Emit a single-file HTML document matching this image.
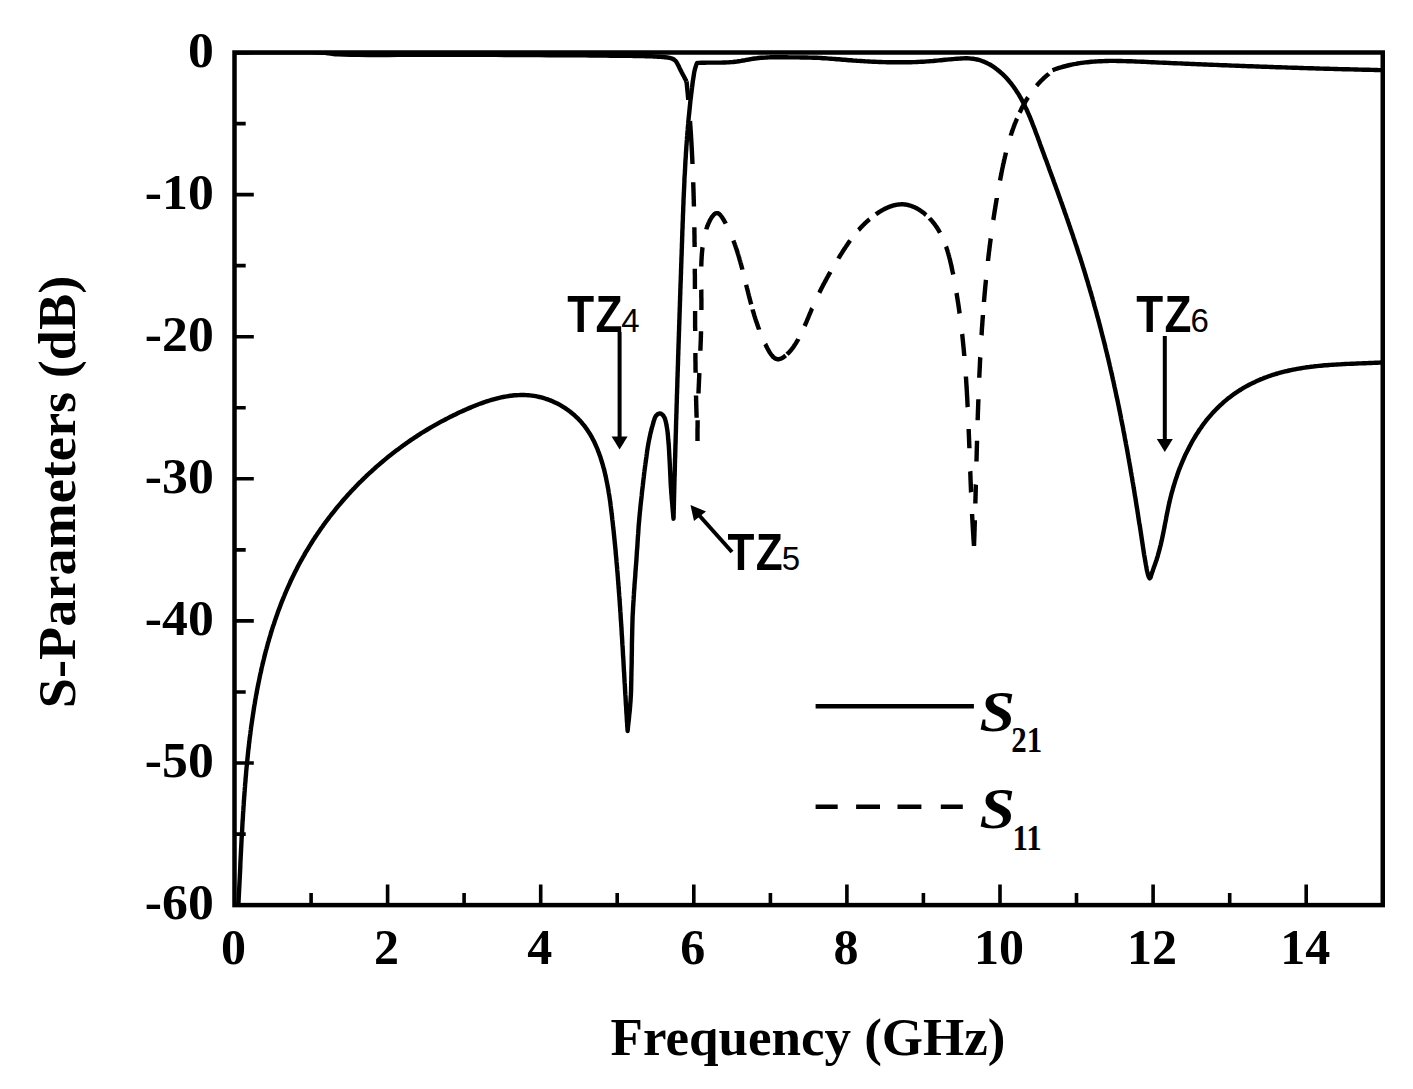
<!DOCTYPE html>
<html><head><meta charset="utf-8"><style>
html,body{margin:0;padding:0;background:#fff;}
body{width:1413px;height:1089px;overflow:hidden;}
svg{display:block;}
</style></head><body>
<svg width="1413" height="1089" viewBox="0 0 1413 1089">
<rect width="1413" height="1089" fill="#fff"/>
<defs><clipPath id="pc"><rect x="234.5" y="52.5" width="1148.25" height="852.6"/></clipPath></defs>
<g clip-path="url(#pc)" fill="none" stroke="#000" stroke-width="4.4" stroke-linejoin="round">
<path d="M238.3,906.0 L238.4,904.1 L238.5,902.1 L238.6,900.2 L238.7,898.3 L238.8,896.3 L238.9,894.4 L239.0,892.5 L239.1,890.5 L239.2,888.6 L239.3,886.6 L239.4,884.6 L239.5,882.7 L239.6,880.7 L239.7,878.8 L239.8,876.8 L239.9,874.8 L240.0,872.9 L240.1,870.9 L240.2,868.9 L240.3,866.9 L240.3,865.0 L240.4,863.0 L240.5,861.0 L240.6,859.0 L240.7,857.0 L240.8,855.0 L240.9,853.1 L241.0,851.1 L241.1,849.1 L241.2,847.1 L241.3,845.1 L241.4,843.1 L241.5,841.1 L241.6,839.1 L241.7,837.1 L241.9,835.1 L242.0,833.1 L242.1,831.1 L242.2,829.1 L242.3,827.0 L242.4,825.0 L242.5,823.0 L242.6,821.0 L242.8,819.0 L242.9,817.0 L243.0,815.0 L243.1,812.9 L243.3,810.9 L243.4,808.9 L243.5,806.9 L243.7,804.9 L243.8,802.8 L243.9,800.8 L244.1,798.8 L244.2,796.8 L244.4,794.8 L244.5,792.7 L244.7,790.7 L244.8,788.7 L245.0,786.7 L245.1,784.6 L245.3,782.6 L245.5,780.6 L245.6,778.5 L245.8,776.5 L246.0,774.5 L246.1,772.5 L246.3,770.4 L246.5,768.4 L246.7,766.4 L246.9,764.4 L247.1,762.3 L247.3,760.3 L247.5,758.3 L247.7,756.3 L247.9,754.2 L248.1,752.2 L248.3,750.2 L248.6,748.2 L248.8,746.2 L249.0,744.1 L249.3,742.1 L249.5,740.1 L249.7,738.1 L250.0,736.1 L250.3,734.0 L250.5,732.0 L250.8,730.0 L251.0,728.0 L251.3,726.0 L251.6,724.0 L251.9,722.0 L252.2,719.9 L252.5,717.9 L252.8,715.9 L253.1,713.9 L253.4,711.9 L253.7,709.9 L254.0,707.9 L254.3,705.9 L254.7,703.9 L255.0,701.9 L255.3,699.9 L255.7,697.9 L256.0,695.9 L256.4,694.0 L256.8,692.0 L257.1,690.0 L257.5,688.0 L257.9,686.0 L258.3,684.0 L258.7,682.1 L259.1,680.1 L259.5,678.1 L259.9,676.1 L260.3,674.2 L260.8,672.2 L261.2,670.2 L261.6,668.3 L262.1,666.3 L262.5,664.4 L263.0,662.4 L263.5,660.5 L264.0,658.5 L264.4,656.6 L264.9,654.6 L265.4,652.7 L265.9,650.7 L266.5,648.8 L267.0,646.9 L267.5,645.0 L268.0,643.0 L268.6,641.1 L269.1,639.2 L269.7,637.3 L270.3,635.4 L270.8,633.5 L271.4,631.5 L272.0,629.6 L272.6,627.7 L273.2,625.8 L273.9,624.0 L274.5,622.1 L275.1,620.2 L275.8,618.3 L276.4,616.4 L277.1,614.5 L277.7,612.7 L278.4,610.8 L279.1,608.9 L279.8,607.1 L280.5,605.2 L281.2,603.4 L281.9,601.5 L282.7,599.7 L283.4,597.9 L284.2,596.0 L284.9,594.2 L285.7,592.4 L286.5,590.5 L287.3,588.7 L288.1,586.9 L288.9,585.1 L289.7,583.3 L290.5,581.5 L291.3,579.7 L292.2,577.9 L293.1,576.1 L293.9,574.4 L294.8,572.6 L295.7,570.8 L296.6,569.1 L297.5,567.3 L298.4,565.5 L299.3,563.8 L300.3,562.0 L301.2,560.3 L302.2,558.6 L303.2,556.8 L304.2,555.1 L305.1,553.4 L306.1,551.7 L307.2,550.0 L308.2,548.3 L309.2,546.6 L310.3,544.9 L311.3,543.2 L312.4,541.5 L313.4,539.8 L314.5,538.2 L315.6,536.5 L316.7,534.9 L317.8,533.2 L319.0,531.6 L320.1,529.9 L321.2,528.3 L322.4,526.7 L323.5,525.1 L324.7,523.4 L325.9,521.8 L327.1,520.2 L328.3,518.6 L329.5,517.0 L330.7,515.5 L331.9,513.9 L333.2,512.3 L334.4,510.8 L335.7,509.2 L336.9,507.7 L338.2,506.1 L339.5,504.6 L340.8,503.1 L342.1,501.5 L343.4,500.0 L344.7,498.5 L346.1,497.0 L347.4,495.5 L348.7,494.0 L350.1,492.6 L351.5,491.1 L352.8,489.6 L354.2,488.2 L355.6,486.7 L357.0,485.3 L358.4,483.8 L359.8,482.4 L361.3,481.0 L362.7,479.6 L364.1,478.2 L365.6,476.8 L367.0,475.4 L368.5,474.0 L370.0,472.6 L371.5,471.3 L373.0,469.9 L374.5,468.6 L376.0,467.2 L377.5,465.9 L379.0,464.6 L380.5,463.3 L382.1,462.0 L383.6,460.7 L385.2,459.4 L386.7,458.1 L388.3,456.8 L389.9,455.6 L391.5,454.3 L393.1,453.1 L394.7,451.8 L396.3,450.6 L397.9,449.4 L399.5,448.2 L401.2,447.0 L402.8,445.8 L404.5,444.6 L406.1,443.4 L407.8,442.2 L409.4,441.1 L411.1,439.9 L412.8,438.8 L414.5,437.7 L416.2,436.6 L417.9,435.4 L419.6,434.3 L421.3,433.2 L423.1,432.2 L424.8,431.1 L426.6,430.0 L428.3,429.0 L430.1,427.9 L431.8,426.9 L433.6,425.9 L435.4,424.9 L437.2,423.9 L438.9,422.9 L440.7,421.9 L442.5,420.9 L444.4,420.0 L446.2,419.0 L448.0,418.1 L449.8,417.1 L451.7,416.2 L453.5,415.3 L455.4,414.4 L457.2,413.5 L459.1,412.6 L460.9,411.8 L462.8,410.9 L464.7,410.1 L466.6,409.2 L468.5,408.4 L470.4,407.6 L472.3,406.8 L474.2,406.0 L476.1,405.2 L478.0,404.5 L479.9,403.8 L481.9,403.1 L483.8,402.4 L485.7,401.7 L487.7,401.1 L489.6,400.5 L491.5,399.9 L493.5,399.3 L495.4,398.8 L497.3,398.3 L499.3,397.8 L501.2,397.4 L503.1,397.0 L505.1,396.6 L507.0,396.3 L509.0,396.0 L510.9,395.7 L512.8,395.5 L514.7,395.3 L516.7,395.2 L518.6,395.1 L520.5,395.0 L522.4,395.0 L524.3,395.0 L526.2,395.1 L528.1,395.2 L530.0,395.4 L531.9,395.6 L533.8,395.9 L535.7,396.2 L537.6,396.6 L539.4,397.0 L541.3,397.4 L543.1,397.9 L544.9,398.5 L546.7,399.1 L548.5,399.7 L550.3,400.4 L552.1,401.1 L553.8,401.9 L555.6,402.7 L557.3,403.5 L559.0,404.4 L560.7,405.4 L562.3,406.3 L563.9,407.3 L565.5,408.4 L567.1,409.5 L568.7,410.6 L570.2,411.8 L571.7,413.0 L573.2,414.2 L574.7,415.5 L576.1,416.8 L577.5,418.1 L578.8,419.5 L580.2,420.9 L581.5,422.4 L582.7,423.9 L584.0,425.4 L585.2,426.9 L586.3,428.5 L587.4,430.1 L588.5,431.8 L589.6,433.4 L590.6,435.1 L591.6,436.8 L592.5,438.6 L593.4,440.3 L594.3,442.1 L595.2,444.0 L596.0,445.8 L596.8,447.6 L597.6,449.5 L598.3,451.4 L599.0,453.3 L599.7,455.2 L600.4,457.1 L601.0,459.1 L601.6,461.0 L602.2,463.0 L602.8,464.9 L603.3,466.9 L603.9,468.9 L604.4,470.9 L604.9,472.9 L605.3,474.9 L605.8,476.9 L606.2,478.9 L606.6,480.9 L607.0,482.9 L607.4,484.9 L607.8,487.0 L608.2,489.0 L608.5,491.0 L608.8,493.1 L609.2,495.1 L609.5,497.1 L609.8,499.2 L610.1,501.2 L610.4,503.2 L610.6,505.3 L610.9,507.3 L611.1,509.4 L611.4,511.4 L611.6,513.4 L611.9,515.5 L612.1,517.5 L612.3,519.5 L612.6,521.6 L612.8,523.6 L613.0,525.6 L613.2,527.6 L613.5,529.7 L613.7,531.7 L613.9,533.7 L614.1,535.7 L614.3,537.7 L614.5,539.7 L614.7,541.7 L614.9,543.8 L615.1,545.8 L615.3,547.8 L615.5,549.8 L615.7,551.8 L615.8,553.8 L616.0,555.8 L616.2,557.7 L616.4,559.7 L616.5,561.7 L616.7,563.7 L616.9,565.7 L617.1,567.7 L617.2,569.7 L617.4,571.7 L617.6,573.7 L617.7,575.6 L617.9,577.6 L618.0,579.6 L618.2,581.6 L618.3,583.6 L618.5,585.5 L618.6,587.5 L618.8,589.5 L618.9,591.5 L619.1,593.4 L619.2,595.4 L619.4,597.4 L619.5,599.3 L619.7,601.3 L619.8,603.3 L619.9,605.3 L620.1,607.2 L620.2,609.2 L620.3,611.2 L620.5,613.1 L620.6,615.1 L620.7,617.1 L620.8,619.1 L621.0,621.0 L621.1,623.0 L621.2,625.0 L621.4,626.9 L621.5,628.9 L621.6,630.9 L621.7,632.9 L621.8,634.8 L622.0,636.8 L622.1,638.8 L622.2,640.7 L622.3,642.7 L622.4,644.7 L622.6,646.7 L622.7,648.6 L622.8,650.6 L622.9,652.6 L623.0,654.6 L623.1,656.6 L623.3,658.5 L623.4,660.5 L623.5,662.5 L623.6,664.5 L623.7,666.5 L623.8,668.5 L623.9,670.5 L624.1,672.4 L624.2,674.4 L624.3,676.4 L624.4,678.4 L624.5,680.4 L624.6,682.4 L624.8,684.4 L624.9,686.4 L625.0,688.4 L625.1,690.4 L625.2,692.4 L625.3,694.4 L625.5,696.5 L625.6,698.5 L625.7,700.5 L625.8,702.5 L625.9,704.5 L626.1,706.5 L626.2,708.6 L626.3,710.6 L626.4,712.6 L626.6,714.7 L626.7,716.7 L626.8,718.7 L626.9,720.8 L627.1,722.8 L627.2,724.9 L627.3,726.9 L627.5,728.9 L627.6,731.0 L627.9,728.4 L628.1,725.8 L628.4,723.2 L628.7,720.7 L629.0,718.1 L629.2,715.5 L629.5,712.9 L629.8,710.3 L630.0,707.7 L630.2,705.1 L630.4,702.6 L630.6,700.0 L630.7,697.5 L630.9,695.1 L631.0,692.6 L631.1,690.3 L631.1,687.9 L631.2,685.4 L631.2,683.0 L631.3,680.5 L631.3,678.0 L631.4,675.4 L631.4,672.8 L631.5,670.0 L631.6,666.2 L631.7,662.3 L631.7,658.1 L631.8,653.8 L631.9,649.4 L631.9,645.0 L632.0,640.6 L632.1,636.2 L632.2,631.9 L632.3,627.7 L632.4,623.8 L632.5,620.0 L632.6,617.2 L632.7,614.6 L632.9,612.0 L633.0,609.4 L633.1,607.0 L633.3,604.5 L633.4,602.1 L633.6,599.7 L633.7,597.3 L633.9,594.9 L634.0,592.5 L634.2,590.0 L634.4,587.5 L634.5,585.0 L634.7,582.6 L634.9,580.2 L635.1,577.7 L635.3,575.3 L635.4,572.8 L635.6,570.3 L635.8,567.8 L636.0,565.2 L636.2,562.7 L636.4,560.0 L636.6,556.9 L636.8,553.7 L637.0,550.4 L637.3,547.1 L637.5,543.7 L637.7,540.4 L637.9,537.0 L638.2,533.5 L638.4,530.1 L638.6,526.7 L638.9,523.3 L639.2,520.0 L639.5,516.6 L639.8,513.1 L640.2,509.6 L640.5,506.0 L640.9,502.4 L641.3,498.9 L641.7,495.4 L642.0,492.0 L642.4,488.7 L642.8,485.6 L643.1,482.7 L643.4,480.0 L643.6,478.4 L643.8,477.0 L643.9,475.6 L644.1,474.3 L644.2,473.0 L644.4,471.8 L644.5,470.6 L644.7,469.4 L644.9,468.2 L645.0,466.9 L645.2,465.6 L645.4,464.2 L645.6,462.5 L645.9,460.7 L646.1,458.9 L646.4,457.1 L646.6,455.2 L646.9,453.3 L647.1,451.4 L647.4,449.6 L647.7,447.7 L648.0,445.9 L648.3,444.1 L648.6,442.4 L648.9,440.9 L649.2,439.4 L649.5,438.0 L649.8,436.5 L650.1,435.1 L650.4,433.6 L650.8,432.2 L651.1,430.9 L651.4,429.5 L651.8,428.2 L652.1,426.9 L652.5,425.7 L652.8,424.7 L653.1,423.7 L653.3,422.7 L653.6,421.7 L653.9,420.8 L654.2,419.8 L654.5,418.9 L654.8,418.1 L655.1,417.3 L655.5,416.6 L655.9,415.9 L656.3,415.4 L656.6,415.1 L656.9,414.8 L657.2,414.6 L657.5,414.3 L657.9,414.1 L658.2,413.9 L658.5,413.8 L658.9,413.7 L659.2,413.6 L659.6,413.5 L659.9,413.5 L660.2,413.5 L660.5,413.6 L660.9,413.7 L661.2,413.9 L661.6,414.1 L661.9,414.3 L662.2,414.6 L662.6,414.9 L662.9,415.2 L663.2,415.6 L663.5,415.9 L663.7,416.3 L664.0,416.7 L664.3,417.3 L664.6,417.9 L664.9,418.5 L665.1,419.2 L665.3,419.9 L665.6,420.7 L665.7,421.5 L665.9,422.3 L666.1,423.1 L666.3,424.0 L666.4,424.8 L666.6,425.7 L666.8,426.9 L667.0,428.1 L667.2,429.4 L667.4,430.8 L667.6,432.2 L667.7,433.6 L667.9,435.0 L668.0,436.5 L668.1,437.9 L668.2,439.4 L668.4,440.9 L668.5,442.4 L668.6,444.1 L668.8,445.8 L668.9,447.6 L669.0,449.4 L669.1,451.2 L669.2,453.0 L669.3,454.8 L669.4,456.7 L669.5,458.6 L669.6,460.4 L669.7,462.3 L669.8,464.2 L669.9,466.3 L670.0,468.4 L670.1,470.5 L670.2,472.7 L670.3,474.8 L670.4,477.0 L670.5,479.2 L670.6,481.4 L670.7,483.5 L670.8,485.7 L671.0,487.8 L671.1,489.9 L671.2,491.9 L671.4,494.0 L671.6,496.1 L671.7,498.3 L671.9,500.4 L672.1,502.5 L672.3,504.5 L672.4,506.5 L672.6,508.3 L672.7,510.1 L672.9,511.6 L673.0,513.0 L673.1,513.6 L673.1,514.2 L673.1,514.7 L673.2,515.2 L673.2,515.6 L673.3,516.1 L673.3,516.5 L673.3,516.9 L673.4,517.4 L673.4,517.8 L673.5,518.2 L673.5,518.7 L673.6,516.7 L673.6,514.7 L673.7,512.6 L673.7,510.6 L673.8,508.6 L673.8,506.6 L673.9,504.6 L673.9,502.5 L674.0,500.5 L674.0,498.5 L674.1,496.5 L674.1,494.5 L674.2,492.5 L674.2,490.4 L674.3,488.4 L674.3,486.4 L674.4,484.4 L674.4,482.4 L674.5,480.4 L674.5,478.3 L674.6,476.3 L674.7,474.3 L674.7,472.3 L674.8,470.3 L674.8,468.3 L674.9,466.3 L674.9,464.2 L675.0,462.2 L675.0,460.2 L675.1,458.2 L675.2,456.2 L675.2,454.2 L675.3,452.2 L675.3,450.1 L675.4,448.1 L675.4,446.1 L675.5,444.1 L675.6,442.1 L675.6,440.1 L675.7,438.1 L675.7,436.1 L675.8,434.0 L675.9,432.0 L675.9,430.0 L676.0,428.0 L676.0,426.0 L676.1,424.0 L676.1,422.0 L676.2,420.0 L676.3,418.0 L676.3,415.9 L676.4,413.9 L676.5,411.9 L676.5,409.9 L676.6,407.9 L676.6,405.9 L676.7,403.9 L676.8,401.9 L676.8,399.8 L676.9,397.8 L676.9,395.8 L677.0,393.8 L677.1,391.8 L677.1,389.8 L677.2,387.8 L677.3,385.8 L677.3,383.8 L677.4,381.8 L677.4,379.7 L677.5,377.7 L677.6,375.7 L677.6,373.7 L677.7,371.7 L677.8,369.7 L677.8,367.7 L677.9,365.7 L678.0,363.7 L678.0,361.6 L678.1,359.6 L678.1,357.6 L678.2,355.6 L678.3,353.6 L678.3,351.6 L678.4,349.6 L678.5,347.6 L678.5,345.6 L678.6,343.5 L678.7,341.5 L678.7,339.5 L678.8,337.5 L678.9,335.5 L678.9,333.5 L679.0,331.5 L679.1,329.5 L679.1,327.4 L679.2,325.4 L679.3,323.4 L679.3,321.4 L679.4,319.4 L679.5,317.4 L679.5,315.4 L679.6,313.4 L679.7,311.3 L679.7,309.3 L679.8,307.3 L679.9,305.3 L679.9,303.3 L680.0,301.3 L680.1,299.3 L680.1,297.3 L680.2,295.2 L680.3,293.2 L680.3,291.2 L680.4,289.2 L680.5,287.2 L680.5,285.2 L680.6,283.2 L680.7,281.1 L680.8,279.1 L680.8,277.1 L680.9,275.1 L681.0,273.1 L681.0,271.1 L681.1,269.0 L681.2,267.0 L681.2,265.0 L681.3,263.0 L681.4,261.0 L681.4,259.0 L681.5,256.9 L681.6,254.9 L681.7,252.9 L681.7,250.9 L681.8,248.9 L681.9,246.8 L681.9,244.8 L682.0,242.8 L682.1,240.8 L682.1,238.8 L682.2,236.8 L682.3,234.7 L682.3,232.7 L682.4,230.7 L682.5,228.7 L682.6,226.7 L682.6,224.6 L682.7,222.6 L682.8,220.6 L682.9,218.6 L682.9,216.5 L683.0,214.5 L683.1,212.5 L683.2,210.5 L683.2,208.5 L683.3,206.4 L683.4,204.4 L683.5,202.4 L683.5,200.4 L683.6,198.4 L683.7,196.3 L683.8,194.3 L683.9,192.3 L684.0,190.3 L684.1,188.3 L684.2,186.2 L684.3,184.2 L684.4,182.2 L684.4,180.2 L684.5,178.2 L684.6,176.2 L684.8,174.1 L684.9,172.1 L685.0,170.1 L685.1,168.1 L685.2,166.1 L685.3,164.1 L685.4,162.1 L685.5,160.0 L685.7,158.0 L685.8,156.0 L685.9,154.0 L686.0,152.0 L686.2,150.0 L686.3,148.0 L686.4,146.0 L686.6,144.0 L686.7,142.0 L686.9,139.9 L687.0,137.9 L687.2,135.9 L687.3,133.9 L687.5,131.9 L687.7,129.9 L687.8,127.9 L688.0,125.9 L688.2,123.9 L688.3,121.9 L688.5,119.9 L688.7,117.9 L688.9,115.9 L689.1,114.0 L689.3,112.0 L689.5,110.0 L689.7,108.0 L689.9,106.0 L690.1,104.0 L690.3,102.0 L690.5,100.0 L690.8,98.0 L691.0,96.1 L691.2,94.1 L691.5,92.1 L691.7,90.1 L692.0,88.1 L692.2,86.2 L692.5,84.2 L692.7,82.2 L693.0,80.2 L693.3,78.3 L693.6,76.3 L693.9,74.4 L694.2,72.4 L694.6,70.5 L695.1,68.6 L695.7,66.7 L696.3,64.8 L697.0,63.0 L699.0,62.9 L701.0,62.8 L703.0,62.7 L705.0,62.7 L707.0,62.6 L709.0,62.6 L711.0,62.6 L713.0,62.6 L715.0,62.6 L717.1,62.6 L719.1,62.6 L721.1,62.6 L723.1,62.5 L725.1,62.5 L727.1,62.4 L729.1,62.3 L731.1,62.1 L733.1,62.0 L735.1,61.7 L737.0,61.5 L739.0,61.2 L741.0,60.9 L743.0,60.5 L745.0,60.2 L746.9,59.8 L748.9,59.5 L750.9,59.1 L752.9,58.8 L754.9,58.5 L756.8,58.3 L758.8,58.0 L760.8,57.8 L762.8,57.7 L764.8,57.6 L766.8,57.5 L768.8,57.4 L770.8,57.3 L772.8,57.3 L774.8,57.3 L776.8,57.3 L778.8,57.3 L780.8,57.3 L782.9,57.3 L784.9,57.3 L786.9,57.3 L788.9,57.4 L790.9,57.4 L792.9,57.4 L794.9,57.4 L796.9,57.4 L798.9,57.4 L800.9,57.5 L802.9,57.5 L804.9,57.5 L806.9,57.5 L808.9,57.6 L811.0,57.6 L813.0,57.7 L815.0,57.7 L817.0,57.8 L819.0,57.9 L821.0,58.0 L823.0,58.2 L824.9,58.3 L826.9,58.4 L828.9,58.6 L830.9,58.7 L832.9,58.9 L834.9,59.0 L836.9,59.2 L838.9,59.3 L840.9,59.5 L842.9,59.7 L844.9,59.8 L846.9,60.0 L848.9,60.2 L850.9,60.3 L852.9,60.5 L854.9,60.6 L856.9,60.8 L858.9,60.9 L860.9,61.0 L862.9,61.1 L864.9,61.3 L866.9,61.4 L868.9,61.5 L870.9,61.6 L872.9,61.7 L875.0,61.8 L877.0,61.9 L879.0,62.0 L881.0,62.0 L883.0,62.1 L885.0,62.1 L887.0,62.2 L889.0,62.2 L891.0,62.3 L893.0,62.3 L895.0,62.3 L897.0,62.3 L899.0,62.3 L901.0,62.3 L903.0,62.3 L905.0,62.3 L907.0,62.3 L909.0,62.2 L911.1,62.2 L913.1,62.1 L915.1,62.1 L917.0,62.0 L919.0,61.9 L921.0,61.8 L923.0,61.7 L925.0,61.6 L927.0,61.4 L929.0,61.3 L931.0,61.1 L933.0,61.0 L935.0,60.8 L937.0,60.6 L939.0,60.4 L940.9,60.2 L942.9,60.0 L944.9,59.8 L946.9,59.6 L948.9,59.4 L950.9,59.3 L952.9,59.1 L955.0,58.9 L957.0,58.7 L959.0,58.6 L961.1,58.5 L963.1,58.4 L965.1,58.3 L967.1,58.3 L969.2,58.4 L971.1,58.6 L973.1,58.8 L975.1,59.1 L977.0,59.5 L978.9,59.9 L980.8,60.5 L982.6,61.2 L984.5,61.9 L986.3,62.7 L988.0,63.6 L989.8,64.5 L991.5,65.5 L993.2,66.6 L994.8,67.7 L996.4,68.9 L998.0,70.2 L999.6,71.5 L1001.1,72.8 L1002.6,74.2 L1004.1,75.6 L1005.5,77.0 L1006.9,78.5 L1008.2,80.0 L1009.5,81.6 L1010.8,83.2 L1012.0,84.7 L1013.2,86.3 L1014.4,88.0 L1015.5,89.6 L1016.6,91.3 L1017.7,92.9 L1018.8,94.6 L1019.8,96.4 L1020.8,98.1 L1021.7,99.8 L1022.7,101.6 L1023.6,103.3 L1024.5,105.1 L1025.3,106.9 L1026.2,108.7 L1027.0,110.5 L1027.8,112.4 L1028.6,114.2 L1029.4,116.0 L1030.2,117.9 L1030.9,119.7 L1031.7,121.6 L1032.4,123.5 L1033.1,125.3 L1033.9,127.2 L1034.6,129.1 L1035.3,131.0 L1036.0,132.9 L1036.7,134.7 L1037.4,136.6 L1038.1,138.5 L1038.8,140.4 L1039.5,142.3 L1040.1,144.2 L1040.8,146.1 L1041.5,147.9 L1042.2,149.8 L1042.9,151.7 L1043.6,153.6 L1044.3,155.5 L1045.0,157.4 L1045.7,159.2 L1046.4,161.1 L1047.1,163.0 L1047.8,164.9 L1048.5,166.8 L1049.1,168.7 L1049.8,170.5 L1050.5,172.4 L1051.2,174.3 L1051.9,176.2 L1052.6,178.1 L1053.3,180.0 L1053.9,181.8 L1054.6,183.7 L1055.3,185.6 L1056.0,187.5 L1056.7,189.4 L1057.4,191.3 L1058.0,193.1 L1058.7,195.0 L1059.4,196.9 L1060.1,198.8 L1060.7,200.7 L1061.4,202.6 L1062.1,204.4 L1062.7,206.3 L1063.4,208.2 L1064.1,210.1 L1064.7,212.0 L1065.4,213.9 L1066.1,215.8 L1066.7,217.7 L1067.4,219.5 L1068.0,221.4 L1068.7,223.3 L1069.3,225.2 L1070.0,227.1 L1070.6,229.0 L1071.3,230.9 L1071.9,232.8 L1072.6,234.7 L1073.2,236.6 L1073.8,238.5 L1074.5,240.4 L1075.1,242.3 L1075.7,244.2 L1076.4,246.1 L1077.0,248.0 L1077.6,249.9 L1078.2,251.8 L1078.8,253.7 L1079.5,255.6 L1080.1,257.5 L1080.7,259.4 L1081.3,261.3 L1081.9,263.2 L1082.5,265.2 L1083.1,267.1 L1083.7,269.0 L1084.3,270.9 L1084.9,272.8 L1085.4,274.7 L1086.0,276.7 L1086.6,278.6 L1087.2,280.5 L1087.8,282.4 L1088.3,284.3 L1088.9,286.3 L1089.5,288.2 L1090.0,290.1 L1090.6,292.0 L1091.2,294.0 L1091.7,295.9 L1092.3,297.8 L1092.8,299.8 L1093.4,301.7 L1093.9,303.6 L1094.4,305.6 L1095.0,307.5 L1095.5,309.4 L1096.1,311.4 L1096.6,313.3 L1097.1,315.2 L1097.6,317.2 L1098.2,319.1 L1098.7,321.1 L1099.2,323.0 L1099.7,324.9 L1100.2,326.9 L1100.7,328.8 L1101.2,330.8 L1101.7,332.7 L1102.2,334.7 L1102.7,336.6 L1103.2,338.5 L1103.7,340.5 L1104.2,342.4 L1104.7,344.4 L1105.2,346.3 L1105.6,348.3 L1106.1,350.2 L1106.6,352.2 L1107.1,354.1 L1107.5,356.1 L1108.0,358.0 L1108.5,360.0 L1108.9,361.9 L1109.4,363.9 L1109.8,365.8 L1110.3,367.8 L1110.7,369.7 L1111.2,371.7 L1111.6,373.6 L1112.1,375.6 L1112.5,377.5 L1112.9,379.5 L1113.4,381.4 L1113.8,383.4 L1114.2,385.3 L1114.6,387.3 L1115.1,389.2 L1115.5,391.2 L1115.9,393.1 L1116.3,395.1 L1116.7,397.1 L1117.2,399.0 L1117.6,401.0 L1118.0,402.9 L1118.4,404.9 L1118.8,406.8 L1119.2,408.8 L1119.6,410.8 L1120.0,412.7 L1120.4,414.7 L1120.8,416.6 L1121.1,418.6 L1121.5,420.6 L1121.9,422.5 L1122.3,424.5 L1122.7,426.4 L1123.1,428.4 L1123.4,430.4 L1123.8,432.3 L1124.2,434.3 L1124.6,436.3 L1124.9,438.2 L1125.3,440.2 L1125.7,442.2 L1126.0,444.1 L1126.4,446.1 L1126.8,448.1 L1127.1,450.0 L1127.5,452.0 L1127.8,454.0 L1128.2,455.9 L1128.5,457.9 L1128.9,459.9 L1129.2,461.9 L1129.6,463.8 L1129.9,465.8 L1130.3,467.8 L1130.6,469.7 L1130.9,471.7 L1131.3,473.7 L1131.6,475.7 L1132.0,477.6 L1132.3,479.6 L1132.6,481.6 L1133.0,483.6 L1133.3,485.6 L1133.6,487.5 L1134.0,489.5 L1134.3,491.5 L1134.6,493.5 L1134.9,495.5 L1135.3,497.4 L1135.6,499.4 L1135.9,501.4 L1136.2,503.4 L1136.5,505.4 L1136.8,507.3 L1137.2,509.3 L1137.5,511.3 L1137.8,513.3 L1138.1,515.3 L1138.4,517.3 L1138.7,519.3 L1139.0,521.3 L1139.3,523.2 L1139.7,525.2 L1140.0,527.2 L1140.3,529.2 L1140.6,531.2 L1140.9,533.2 L1141.2,535.2 L1141.5,537.2 L1141.8,539.2 L1142.1,541.2 L1142.4,543.2 L1142.7,545.2 L1143.0,547.2 L1143.3,549.1 L1143.6,551.1 L1143.9,553.1 L1144.2,555.1 L1144.6,557.1 L1144.9,559.0 L1145.2,561.0 L1145.6,562.9 L1145.9,564.9 L1146.3,566.8 L1146.6,568.7 L1147.0,570.7 L1147.5,572.7 L1148.0,574.8 L1148.8,577.1 L1149.6,578.4 L1150.5,577.5 L1151.2,575.3 L1151.9,573.1 L1152.6,571.2 L1153.2,569.4 L1153.8,567.6 L1154.5,565.7 L1155.2,563.8 L1155.8,561.9 L1156.5,560.0 L1157.1,558.0 L1157.7,556.1 L1158.2,554.2 L1158.8,552.2 L1159.3,550.3 L1159.8,548.3 L1160.3,546.4 L1160.8,544.5 L1161.2,542.5 L1161.7,540.6 L1162.1,538.6 L1162.5,536.7 L1162.9,534.8 L1163.3,532.8 L1163.7,530.9 L1164.1,528.9 L1164.5,527.0 L1164.8,525.0 L1165.2,523.1 L1165.6,521.1 L1166.0,519.2 L1166.3,517.2 L1166.7,515.3 L1167.1,513.3 L1167.5,511.4 L1167.9,509.4 L1168.3,507.5 L1168.7,505.5 L1169.1,503.6 L1169.6,501.6 L1170.0,499.7 L1170.5,497.7 L1171.0,495.8 L1171.5,493.8 L1172.0,491.9 L1172.6,489.9 L1173.1,488.0 L1173.7,486.0 L1174.3,484.1 L1174.9,482.2 L1175.5,480.2 L1176.1,478.3 L1176.8,476.4 L1177.4,474.5 L1178.1,472.5 L1178.8,470.6 L1179.5,468.7 L1180.3,466.8 L1181.0,465.0 L1181.8,463.1 L1182.6,461.2 L1183.4,459.3 L1184.2,457.5 L1185.0,455.6 L1185.9,453.8 L1186.8,452.0 L1187.7,450.2 L1188.6,448.4 L1189.5,446.6 L1190.5,444.8 L1191.4,443.0 L1192.4,441.2 L1193.4,439.5 L1194.4,437.8 L1195.5,436.0 L1196.5,434.3 L1197.6,432.7 L1198.7,431.0 L1199.8,429.3 L1201.0,427.7 L1202.1,426.0 L1203.3,424.4 L1204.5,422.8 L1205.7,421.2 L1206.9,419.7 L1208.2,418.1 L1209.5,416.6 L1210.8,415.1 L1212.1,413.6 L1213.4,412.1 L1214.8,410.7 L1216.2,409.3 L1217.6,407.9 L1219.0,406.5 L1220.4,405.1 L1221.9,403.8 L1223.4,402.4 L1224.9,401.1 L1226.4,399.9 L1227.9,398.6 L1229.5,397.4 L1231.1,396.2 L1232.7,395.0 L1234.3,393.8 L1236.0,392.7 L1237.6,391.6 L1239.3,390.5 L1241.0,389.5 L1242.7,388.4 L1244.4,387.4 L1246.2,386.4 L1247.9,385.5 L1249.7,384.5 L1251.5,383.6 L1253.3,382.7 L1255.1,381.9 L1256.9,381.0 L1258.7,380.2 L1260.6,379.4 L1262.4,378.7 L1264.3,377.9 L1266.2,377.2 L1268.0,376.5 L1269.9,375.9 L1271.8,375.2 L1273.7,374.6 L1275.6,374.0 L1277.5,373.5 L1279.4,372.9 L1281.4,372.4 L1283.3,371.9 L1285.2,371.4 L1287.2,371.0 L1289.1,370.5 L1291.1,370.1 L1293.0,369.7 L1295.0,369.3 L1297.0,368.9 L1298.9,368.6 L1300.9,368.3 L1302.9,367.9 L1304.9,367.6 L1306.9,367.3 L1308.9,367.1 L1310.9,366.8 L1312.9,366.6 L1314.9,366.3 L1316.9,366.1 L1318.9,365.9 L1320.9,365.7 L1322.9,365.5 L1324.9,365.3 L1326.9,365.2 L1328.9,365.0 L1330.9,364.9 L1333.0,364.7 L1335.0,364.6 L1337.0,364.5 L1339.0,364.4 L1341.0,364.3 L1343.0,364.1 L1345.1,364.0 L1347.1,363.9 L1349.1,363.9 L1351.1,363.8 L1353.1,363.7 L1355.1,363.6 L1357.1,363.5 L1359.1,363.4 L1361.2,363.4 L1363.2,363.3 L1365.2,363.2 L1367.2,363.1 L1369.2,363.0 L1371.2,363.0 L1373.1,362.9 L1375.1,362.8 L1377.1,362.7 L1379.1,362.6 L1381.1,362.5 L1383.0,362.4 L1385.0,362.3"/>
<path d="M230.0,52.5 L237.9,52.5 L246.2,52.5 L254.8,52.4 L263.5,52.4 L272.2,52.3 L280.7,52.3 L289.0,52.2 L296.9,52.2 L304.3,52.3 L311.1,52.4 L317.0,52.5 L322.0,52.7 L323.8,52.8 L325.3,52.9 L326.6,53.1 L327.8,53.2 L328.9,53.4 L329.9,53.5 L331.0,53.7 L332.1,53.9 L333.3,54.0 L334.6,54.2 L336.2,54.3 L338.0,54.4 L343.8,54.6 L350.8,54.8 L359.0,54.9 L368.0,55.0 L377.6,55.0 L387.9,55.0 L398.4,54.9 L409.1,54.9 L419.8,54.8 L430.3,54.8 L440.5,54.8 L450.0,54.8 L459.0,54.8 L468.1,54.9 L477.3,54.9 L486.5,54.9 L495.7,54.9 L504.8,55.0 L513.9,55.0 L522.7,55.0 L531.4,55.1 L539.9,55.1 L548.1,55.2 L556.0,55.2 L562.0,55.2 L567.9,55.3 L573.7,55.3 L579.4,55.4 L585.0,55.4 L590.5,55.5 L595.8,55.5 L601.0,55.6 L606.1,55.6 L610.9,55.7 L615.6,55.7 L620.0,55.8 L622.9,55.8 L625.8,55.9 L628.6,55.9 L631.3,55.9 L634.0,56.0 L636.5,56.0 L639.0,56.0 L641.4,56.1 L643.7,56.1 L645.9,56.2 L648.0,56.2 L650.0,56.3 L651.2,56.3 L652.4,56.4 L653.5,56.5 L654.6,56.5 L655.6,56.6 L656.6,56.6 L657.6,56.7 L658.5,56.7 L659.4,56.8 L660.3,56.9 L661.2,56.9 L662.0,57.0 L662.6,57.0 L663.1,57.1 L663.7,57.1 L664.2,57.2 L664.7,57.2 L665.2,57.3 L665.7,57.3 L666.2,57.3 L666.6,57.4 L667.1,57.5 L667.6,57.5 L668.0,57.6 L668.4,57.7 L668.7,57.7 L669.1,57.8 L669.4,57.9 L669.8,57.9 L670.1,58.0 L670.4,58.1 L670.7,58.2 L671.1,58.3 L671.4,58.4 L671.7,58.5 L672.0,58.6 L672.3,58.7 L672.6,58.9 L672.9,59.0 L673.2,59.1 L673.5,59.3 L673.8,59.4 L674.1,59.6 L674.4,59.8 L674.6,60.0 L674.9,60.3 L675.2,60.5 L675.5,60.8 L676.0,61.4 L676.4,62.0 L676.9,62.8 L677.4,63.6 L677.8,64.5 L678.3,65.4 L678.7,66.3 L679.2,67.3 L679.6,68.2 L680.1,69.2 L680.5,70.1 L681.0,71.0 L681.5,71.9 L681.9,72.7 L682.4,73.6 L682.8,74.5 L683.3,75.4 L683.8,76.2 L684.2,77.1 L684.7,78.0 L685.1,78.9 L685.6,79.7 L686.0,80.6 L686.5,81.5"/>
<path d="M686.5,81.5 L686.6,82.0 L686.6,82.5 L686.7,83.0 L686.7,83.5 L686.8,84.0 L686.8,84.5 L686.9,85.0 L686.9,85.5 L687.0,86.0 L687.0,86.5 L687.1,87.0 L687.1,87.5 L687.2,88.0 L687.2,88.5 L687.3,89.0 L687.3,89.5 L687.4,90.0 L687.4,90.5 L687.5,91.0 L687.5,91.6 L687.6,92.1 L687.6,92.6 L687.7,93.1 L687.7,93.6 L687.8,94.1 L687.8,94.6 L687.9,95.1 L687.9,95.6 L687.9,96.1 L688.0,96.6 L688.0,97.1 L688.1,97.6 L688.1,98.1 L688.2,98.6 L688.2,99.1 L688.3,99.6 L688.3,100.1 M690.0,121.2 L690.1,121.7 L690.1,122.2 L690.1,122.7 L690.2,123.3 L690.2,123.8 L690.2,124.3 L690.3,124.8 L690.3,125.3 L690.3,125.8 L690.4,126.3 L690.4,126.8 L690.4,127.3 L690.5,127.8 L690.5,128.3 L690.5,128.8 L690.6,129.3 L690.6,129.8 L690.6,130.3 L690.7,130.8 L690.7,131.3 L690.7,131.8 L690.8,132.3 L690.8,132.8 L690.8,133.3 L690.9,133.8 L690.9,134.3 L690.9,134.8 L691.0,135.3 L691.0,135.8 L691.0,136.4 L691.1,136.9 L691.1,137.4 L691.1,137.9 L691.2,138.4 L691.2,138.9 L691.2,139.4 L691.2,139.9 L691.3,140.4 L691.3,140.9 L691.3,141.4 L691.4,141.9 L691.4,142.4 L691.4,142.9 L691.5,143.4 L691.5,143.9 L691.5,144.4 L691.5,144.9 L691.6,145.4 L691.6,145.9 L691.6,146.4 L691.6,146.9 L691.7,147.4 L691.7,147.9 L691.7,148.4 L691.8,149.0 L691.8,149.5 L691.8,150.0 L691.8,150.5 L691.9,151.0 L691.9,151.5 L691.9,152.0 L691.9,152.5 L692.0,153.0 L692.0,153.5 L692.0,154.0 L692.0,154.5 L692.1,155.0 L692.1,155.5 L692.1,156.0 L692.1,156.5 L692.2,157.0 L692.2,157.5 L692.2,158.0 L692.2,158.5 L692.3,159.0 L692.3,159.5 L692.3,160.0 L692.3,160.6 L692.4,161.1 L692.4,161.6 L692.4,162.1 L692.4,162.6 L692.4,163.1 L692.5,163.6 L692.5,164.1 M693.2,182.2 L693.2,182.8 L693.2,183.3 L693.3,183.8 L693.3,184.3 L693.3,184.8 L693.3,185.3 L693.3,185.8 L693.3,186.3 L693.4,186.8 L693.4,187.3 L693.4,187.8 L693.4,188.3 L693.4,188.8 L693.4,189.3 L693.5,189.8 L693.5,190.3 L693.5,190.8 L693.5,191.3 L693.5,191.8 L693.5,192.3 L693.6,192.9 L693.6,193.4 L693.6,193.9 L693.6,194.4 L693.6,194.9 L693.6,195.4 L693.6,195.9 L693.7,196.4 L693.7,196.9 L693.7,197.4 L693.7,197.9 L693.7,198.4 L693.7,198.9 L693.7,199.4 L693.8,199.9 L693.8,200.4 L693.8,200.9 L693.8,201.4 L693.8,201.9 L693.8,202.4 L693.8,203.0 L693.8,203.5 L693.9,204.0 L693.9,204.5 L693.9,205.0 L693.9,205.5 L693.9,206.0 L693.9,206.5 M694.3,227.2 L694.3,227.7 L694.4,228.2 L694.4,228.7 L694.4,229.2 L694.4,229.7 L694.4,230.2 L694.4,230.7 L694.4,231.2 L694.4,231.8 L694.4,232.3 L694.4,232.8 L694.4,233.3 L694.4,233.8 L694.4,234.3 L694.5,234.8 L694.5,235.3 L694.5,235.8 L694.5,236.3 L694.5,236.8 L694.5,237.3 L694.5,237.8 L694.5,238.3 L694.5,238.8 L694.5,239.3 L694.5,239.8 L694.5,240.3 L694.5,240.9 L694.5,241.4 L694.5,241.9 L694.6,242.4 L694.6,242.9 L694.6,243.4 L694.6,243.9 L694.6,244.4 L694.6,244.9 L694.6,245.4 L694.6,245.9 L694.6,246.4 L694.6,246.9 M694.8,268.7 L694.8,269.2 L694.8,269.7 L694.8,270.2 L694.8,270.7 L694.8,271.2 L694.8,271.7 L694.8,272.2 L694.8,272.7 L694.8,273.2 L694.8,273.7 L694.9,274.2 L694.9,274.7 L694.9,275.2 L694.9,275.7 L694.9,276.2 L694.9,276.7 L694.9,277.3 L694.9,277.8 L694.9,278.3 L694.9,278.8 L694.9,279.3 L694.9,279.8 L694.9,280.3 L694.9,280.8 L694.9,281.3 L694.9,281.8 L694.9,282.3 L694.9,282.8 L694.9,283.3 L694.9,283.8 L694.9,284.3 L694.9,284.8 L694.9,285.3 L694.9,285.9 L694.9,286.4 L694.9,286.9 L694.9,287.4 L694.9,287.9 L694.9,288.4 L694.9,288.9 M695.1,311.1 L695.1,311.6 L695.1,312.2 L695.1,312.7 L695.1,313.2 L695.1,313.7 L695.1,314.2 L695.1,314.7 L695.1,315.2 L695.1,315.7 L695.1,316.2 L695.1,316.7 L695.1,317.2 L695.1,317.7 L695.1,318.2 L695.1,318.7 L695.1,319.2 L695.1,319.7 L695.1,320.2 L695.1,320.7 L695.1,321.3 L695.1,321.8 L695.1,322.3 L695.1,322.8 L695.1,323.3 L695.1,323.8 L695.1,324.3 L695.1,324.8 L695.1,325.3 L695.1,325.8 L695.1,326.3 L695.1,326.8 L695.1,327.3 L695.2,327.8 L695.2,328.3 L695.2,328.8 L695.2,329.3 L695.2,329.9 L695.2,330.4 L695.2,330.9 M695.4,353.1 L695.4,353.6 L695.4,354.1 L695.4,354.6 L695.4,355.1 L695.4,355.6 L695.4,356.1 L695.4,356.7 L695.4,357.2 L695.4,357.7 L695.4,358.2 L695.4,358.7 L695.4,359.2 L695.4,359.7 L695.4,360.2 L695.4,360.7 L695.4,361.2 L695.5,361.7 L695.5,362.2 L695.5,362.7 L695.5,363.2 L695.5,363.7 L695.5,364.2 L695.5,364.7 L695.5,365.2 L695.5,365.8 L695.5,366.3 L695.5,366.8 L695.5,367.3 L695.5,367.8 L695.5,368.3 L695.5,368.8 L695.5,369.3 L695.6,369.8 L695.6,370.3 L695.6,370.8 L695.6,371.3 L695.6,371.8 L695.6,372.3 L695.6,372.8 M696.0,395.6 L696.0,396.1 L696.0,396.6 L696.1,397.1 L696.1,397.6 L696.1,398.1 L696.1,398.6 L696.1,399.1 L696.1,399.6 L696.1,400.1 L696.1,400.6 L696.2,401.1 L696.2,401.6 L696.2,402.1 L696.2,402.6 L696.2,403.1 L696.2,403.6 L696.2,404.2 L696.2,404.7 L696.3,405.2 L696.3,405.7 L696.3,406.2 L696.3,406.7 L696.3,407.2 L696.3,407.7 L696.3,408.2 L696.4,408.7 L696.4,409.2 L696.4,409.7 L696.4,410.2 L696.4,410.7 L696.4,411.2 L696.4,411.7 L696.5,412.2 L696.5,412.7 L696.5,413.2 L696.5,413.7 L696.5,414.3 L696.5,414.8 L696.5,415.3 L696.6,415.8 L696.6,416.3 L696.6,416.8 L696.6,417.3 L696.6,417.8 M697.5,441.0 L697.5,440.5 L697.5,439.9 L697.5,439.4 L697.5,438.8 L697.5,438.3 L697.5,437.7 L697.5,437.2 L697.5,436.6 L697.5,436.1 L697.5,435.6 L697.5,435.0 L697.5,434.5 L697.5,433.9 L697.5,433.4 L697.5,432.9 L697.5,432.3 L697.5,431.8 L697.5,431.3 L697.5,430.7 L697.5,430.2 L697.5,429.7 L697.5,429.1 L697.5,428.6 L697.5,428.1 L697.6,427.5 L697.6,427.0 L697.6,426.5 L697.6,426.0 L697.6,425.4 L697.6,424.9 L697.6,424.4 L697.6,423.9 L697.6,423.3 L697.6,422.8 L697.6,422.3 L697.6,421.8 L697.6,421.3 L697.7,420.7 L697.7,420.2 M698.5,393.6 L698.5,393.0 L698.5,392.3 L698.5,391.7 L698.6,391.0 L698.6,390.4 L698.6,389.7 L698.6,389.1 L698.7,388.4 L698.7,387.8 L698.7,387.1 L698.8,386.5 L698.8,385.8 L698.8,385.2 L698.8,384.6 L698.9,383.9 L698.9,383.3 L698.9,382.6 L699.0,382.0 L699.0,381.3 L699.0,380.7 L699.0,380.1 L699.1,379.4 L699.1,378.8 L699.1,378.1 L699.2,377.5 L699.2,376.9 L699.2,376.2 L699.2,375.6 L699.3,374.9 L699.3,374.3 L699.3,373.7 L699.4,373.0 M700.4,350.7 L700.4,350.1 L700.4,349.4 L700.4,348.8 L700.5,348.2 L700.5,347.5 L700.5,346.9 L700.5,346.2 L700.6,345.6 L700.6,344.9 L700.6,344.3 L700.6,343.7 L700.7,343.0 L700.7,342.4 L700.7,341.7 L700.7,341.1 L700.8,340.4 L700.8,339.8 L700.8,339.1 L700.8,338.5 L700.8,337.8 L700.9,337.2 L700.9,336.5 L700.9,335.9 L700.9,335.2 L700.9,334.6 L701.0,333.9 L701.0,333.3 L701.0,332.6 L701.0,332.0 L701.0,331.3 M701.4,309.9 L701.4,309.3 L701.4,308.8 L701.4,308.3 L701.4,307.8 L701.4,307.3 L701.4,306.7 L701.4,306.2 L701.4,305.7 L701.4,305.2 L701.4,304.7 L701.4,304.1 L701.4,303.6 L701.4,303.1 L701.4,302.6 L701.4,302.0 L701.4,301.5 L701.4,301.0 L701.4,300.5 L701.4,299.9 L701.4,299.4 L701.4,298.9 L701.4,298.3 L701.3,297.8 L701.3,297.3 L701.3,296.7 L701.3,296.2 L701.3,295.7 L701.3,295.1 L701.3,294.6 L701.3,294.1 L701.3,293.5 L701.3,293.0 L701.3,292.4 L701.3,291.9 L701.3,291.4 L701.3,290.8 L701.3,290.3 L701.2,289.7 M701.3,266.5 L701.3,265.9 L701.3,265.4 L701.3,264.9 L701.3,264.3 L701.3,263.8 L701.4,263.3 L701.4,262.7 L701.4,262.2 L701.4,261.7 L701.4,261.1 L701.5,260.6 L701.5,260.1 L701.5,259.6 L701.6,259.0 L701.6,258.5 L701.6,258.0 L701.6,257.5 L701.7,256.9 L701.7,256.4 L701.7,255.9 L701.8,255.4 L701.8,254.8 L701.9,254.3 L701.9,253.8 L701.9,253.3 L702.0,252.8 L702.0,252.3 L702.1,251.8 L702.1,251.3 L702.2,250.7 L702.2,250.2 L702.3,249.7 L702.3,249.2 L702.4,248.7 L702.4,248.2 L702.5,247.7 L702.6,247.2 M706.3,229.4 L706.4,228.8 L706.6,228.3 L706.8,227.7 L707.0,227.1 L707.2,226.6 L707.4,226.0 L707.7,225.5 L707.9,224.9 L708.1,224.4 L708.3,223.9 L708.6,223.3 L708.8,222.8 L709.0,222.3 L709.3,221.8 L709.5,221.2 L709.8,220.7 L710.0,220.2 L710.3,219.7 L710.6,219.2 L710.9,218.8 L711.1,218.3 L711.4,217.8 L711.7,217.4 L712.0,216.9 L712.3,216.5 L712.6,216.1 L712.9,215.7 L713.4,215.2 L713.9,214.6 L714.3,214.2 L714.8,213.8 L715.3,213.5 L715.8,213.3 L716.3,213.2 L716.9,213.1 L717.4,213.1 L717.9,213.2 L718.4,213.5 L719.0,213.8 L719.5,214.2 L720.0,214.7 L720.4,215.1 L720.7,215.5 L721.1,216.0 L721.5,216.5 L721.8,217.0 L722.2,217.5 L722.5,218.0 L722.9,218.6 L723.2,219.1 L723.5,219.6 L723.7,220.0 L724.0,220.4 L724.2,220.9 L724.5,221.3 L724.7,221.8 L725.0,222.2 L725.2,222.7 L725.5,223.1 L725.7,223.6 M733.4,240.5 L733.6,241.0 L733.8,241.5 L733.9,242.0 L734.1,242.5 L734.3,243.0 L734.5,243.5 L734.7,244.0 L734.8,244.5 L735.0,245.0 L735.2,245.5 L735.4,246.0 L735.5,246.5 L735.7,247.0 L735.9,247.5 L736.0,248.0 L736.2,248.5 L736.4,248.9 L736.5,249.4 L736.7,249.9 L736.9,250.4 L737.0,250.9 L737.2,251.4 L737.4,252.0 L737.5,252.5 L737.7,253.0 L737.8,253.5 L738.0,254.0 L738.1,254.5 L738.3,255.0 L738.5,255.5 L738.6,256.0 L738.8,256.5 L738.9,257.0 L739.1,257.5 L739.2,258.0 L739.3,258.5 L739.5,259.0 L739.6,259.5 L739.8,260.0 L739.9,260.5 L740.1,261.0 L740.2,261.5 L740.4,262.0 L740.5,262.6 L740.6,263.1 L740.8,263.6 L740.9,264.1 L741.1,264.6 L741.2,265.1 L741.3,265.6 L741.5,266.1 L741.6,266.6 L741.7,267.1 L741.9,267.6 L742.0,268.1 L742.1,268.6 L742.3,269.1 L742.4,269.6 M746.2,284.7 L746.3,285.2 L746.4,285.7 L746.5,286.2 L746.7,286.7 L746.8,287.2 L746.9,287.7 L747.0,288.1 L747.1,288.6 L747.3,289.1 L747.4,289.6 L747.5,290.1 L747.6,290.6 L747.8,291.1 L747.9,291.6 L748.0,292.1 L748.1,292.5 L748.2,293.0 L748.4,293.5 L748.5,294.2 L748.7,294.8 L748.8,295.4 L749.0,296.1 L749.2,296.7 L749.3,297.4 L749.5,298.0 L749.7,298.7 L749.8,299.3 L750.0,299.9 L750.2,300.6 L750.3,301.2 L750.5,301.8 L750.7,302.5 L750.8,303.1 L751.0,303.7 L751.2,304.4 M752.6,309.4 L752.7,310.1 L752.9,310.7 L753.1,311.3 L753.3,312.0 L753.5,312.6 L753.7,313.2 L753.9,313.8 L754.0,314.5 L754.2,315.1 L754.4,315.7 L754.6,316.4 L754.8,317.0 L755.0,317.6 L755.2,318.2 L755.4,318.9 L755.6,319.5 L755.8,320.1 L756.0,320.8 L756.2,321.4 L756.5,322.0 L756.7,322.6 L756.9,323.3 L757.1,323.9 L757.3,324.4 L757.4,324.9 L757.6,325.3 L757.8,325.8 L757.9,326.3 L758.1,326.7 L758.3,327.2 L758.4,327.7 L758.6,328.2 L758.8,328.6 L759.0,329.1 L759.1,329.6 M765.2,344.0 L765.5,344.4 L765.7,344.9 L765.9,345.4 L766.2,345.9 L766.4,346.4 L766.6,346.9 L766.9,347.3 L767.1,347.8 L767.4,348.3 L767.6,348.8 L767.9,349.2 L768.1,349.7 L768.4,350.2 L768.6,350.6 L768.9,351.1 L769.2,351.5 L769.4,352.0 L769.7,352.4 L770.0,352.9 L770.4,353.5 L770.8,354.0 L771.1,354.5 L771.5,355.0 L771.9,355.5 L772.3,355.9 L772.7,356.3 L773.0,356.8 L773.5,357.1 L773.9,357.5 L774.3,357.8 L774.9,358.2 L775.5,358.6 L776.2,358.8 L776.8,359.1 L777.5,359.2 L778.2,359.3 L778.8,359.2 L779.5,359.1 L780.2,358.8 L781.0,358.6 L781.4,358.4 L781.9,358.1 L782.4,357.9 L782.9,357.6 L783.3,357.3 L783.8,357.0 L784.3,356.6 L784.7,356.2 L785.2,355.9 L785.7,355.5 M787.0,354.3 L787.4,353.9 L787.9,353.5 L788.3,353.1 L788.7,352.6 L789.2,352.2 L789.6,351.7 L790.0,351.3 L790.4,350.8 L790.8,350.3 L791.2,349.8 L791.6,349.3 L792.0,348.8 L792.4,348.3 L792.8,347.8 L793.1,347.3 L793.5,346.8 L793.9,346.3 L794.2,345.7 L794.6,345.2 L795.0,344.6 L795.3,344.1 L795.7,343.5 L796.0,342.9 L796.3,342.5 L796.6,342.1 L796.8,341.7 L797.1,341.2 L797.3,340.8 L797.6,340.3 L797.8,339.9 L798.1,339.5 L798.3,339.0 M804.6,326.1 L804.8,325.7 L805.0,325.2 L805.2,324.7 L805.4,324.2 L805.6,323.7 L805.9,323.2 L806.1,322.7 L806.3,322.2 L806.5,321.7 L806.7,321.2 L806.9,320.7 L807.1,320.2 L807.3,319.7 L807.6,319.2 L807.8,318.7 L808.0,318.2 L808.2,317.7 L808.4,317.2 L808.6,316.7 L808.8,316.2 L809.0,315.7 L809.2,315.2 L809.4,314.7 L809.6,314.2 L809.9,313.7 L810.1,313.2 L810.3,312.7 L810.5,312.2 L810.7,311.7 L810.9,311.2 L811.1,310.7 L811.3,310.2 L811.5,309.7 L811.7,309.2 L811.9,308.7 L812.2,308.3 M819.3,292.8 L819.5,292.4 L819.7,291.9 L819.9,291.5 L820.2,290.9 L820.5,290.3 L820.8,289.7 L821.1,289.1 L821.4,288.5 L821.7,287.9 L822.0,287.3 L822.3,286.8 L822.6,286.2 L822.9,285.6 L823.2,285.0 L823.5,284.4 L823.8,283.8 L824.1,283.3 L824.4,282.7 L824.8,282.1 L825.1,281.5 L825.4,281.0 L825.7,280.4 L826.0,279.8 L826.3,279.3 L826.6,278.7 L826.9,278.1 L827.2,277.6 L827.5,277.0 L827.9,276.4 L828.2,275.9 L828.5,275.3 L828.8,274.7 L829.1,274.2 L829.4,273.6 L829.8,273.0 L830.1,272.5 L830.4,271.9 M838.3,258.6 L838.6,258.0 L839.0,257.5 L839.3,256.9 L839.7,256.4 L840.0,255.8 L840.3,255.3 L840.7,254.7 L841.0,254.2 L841.4,253.6 L841.7,253.1 L842.1,252.5 L842.4,252.0 L842.8,251.4 L843.1,250.9 L843.5,250.3 L843.8,249.8 L844.2,249.2 L844.6,248.7 L844.9,248.1 L845.3,247.6 L845.6,247.0 L846.0,246.5 L846.4,245.9 L846.8,245.4 L847.1,244.8 L847.5,244.3 L847.9,243.7 L848.3,243.2 L848.6,242.7 L849.0,242.1 L849.4,241.6 L849.8,241.0 L850.2,240.5 M858.5,230.0 L858.9,229.7 L859.2,229.3 L859.6,228.9 L859.9,228.5 L860.3,228.2 L860.6,227.8 L860.9,227.4 L861.3,227.0 L861.7,226.7 L862.0,226.3 L862.4,225.9 L862.7,225.6 L863.1,225.2 L863.5,224.8 L863.8,224.5 L864.2,224.1 L864.6,223.7 L864.9,223.4 L865.3,223.0 L865.7,222.7 L866.1,222.3 L866.4,222.0 L866.8,221.6 L867.2,221.2 L867.6,220.9 L868.0,220.6 L868.4,220.2 L868.8,219.9 L869.2,219.5 L869.6,219.2 M875.9,214.3 L876.3,214.0 L876.8,213.7 L877.2,213.3 L877.6,213.1 L878.1,212.8 L878.5,212.5 L879.0,212.2 L879.4,211.9 L879.9,211.6 L880.3,211.3 L880.8,211.1 L881.2,210.8 L881.7,210.5 L882.2,210.3 L882.6,210.0 L883.1,209.8 L883.5,209.5 L884.0,209.3 L884.5,209.0 L884.9,208.8 L885.4,208.6 L885.9,208.3 L886.3,208.1 L886.8,207.9 L887.3,207.7 L887.7,207.5 L888.2,207.3 L888.7,207.1 L889.2,206.9 L889.6,206.7 L890.1,206.6 L890.6,206.4 L891.1,206.2 L891.5,206.1 L892.0,205.9 L892.6,205.7 L893.3,205.5 L893.9,205.4 L894.5,205.2 L895.2,205.1 L895.8,204.9 L896.5,204.8 L897.1,204.7 L897.7,204.6 L898.4,204.5 L899.0,204.5 L899.7,204.4 L900.3,204.4 L900.9,204.3 L901.6,204.3 L902.2,204.3 L902.8,204.3 L903.5,204.4 L904.1,204.4 L904.7,204.5 L905.4,204.5 L906.0,204.6 L906.6,204.7 L907.2,204.9 L907.9,205.0 L908.5,205.1 L909.1,205.3 L909.7,205.5 L910.3,205.7 L910.9,205.8 L911.6,206.1 L912.2,206.3 L912.8,206.5 L913.4,206.8 L914.0,207.0 L914.6,207.3 L915.2,207.6 L915.7,207.9 L916.3,208.1 L916.9,208.5 L917.5,208.8 L918.1,209.1 L918.5,209.4 L918.9,209.6 L919.4,209.9 L919.8,210.2 L920.2,210.4 L920.6,210.7 L921.0,211.0 L921.4,211.3 L921.9,211.6 L922.3,211.9 L922.7,212.2 L923.1,212.5 L923.5,212.8 L923.9,213.1 L924.3,213.4 L924.7,213.7 L925.0,214.1 L925.4,214.4 L925.8,214.7 L926.2,215.0 M929.5,218.2 L929.8,218.6 L930.2,218.9 L930.5,219.3 L931.0,219.8 L931.4,220.3 L931.8,220.8 L932.3,221.3 L932.7,221.8 L933.1,222.3 L933.5,222.8 L933.9,223.4 L934.3,223.9 L934.7,224.4 L935.1,224.9 L935.5,225.5 L935.9,226.0 L936.2,226.5 L936.6,227.1 L937.0,227.6 L937.3,228.2 L937.7,228.7 L938.0,229.3 L938.4,229.9 L938.7,230.4 L939.0,231.0 L939.3,231.6 L939.7,232.1 L940.0,232.7 M946.0,246.6 L946.3,247.2 L946.5,247.8 L946.7,248.5 L946.8,248.9 L947.0,249.4 L947.2,249.9 L947.3,250.4 L947.5,250.9 L947.6,251.3 L947.7,251.8 L947.9,252.3 L948.0,252.8 L948.2,253.3 L948.3,253.8 L948.5,254.2 L948.6,254.7 L948.7,255.2 L948.9,255.7 L949.0,256.2 L949.1,256.7 L949.3,257.2 L949.4,257.7 L949.5,258.1 L949.6,258.6 L949.8,259.1 L949.9,259.6 L950.0,260.1 L950.1,260.6 L950.2,261.1 L950.4,261.6 L950.5,262.1 L950.6,262.6 L950.7,263.1 L950.8,263.6 L950.9,264.1 L951.1,264.6 L951.2,265.1 L951.3,265.6 L951.4,266.1 L951.5,266.5 L951.6,267.0 L951.7,267.5 L951.8,268.0 L951.9,268.5 L952.0,269.0 L952.1,269.5 L952.2,270.0 L952.3,270.5 L952.4,271.0 L952.5,271.5 L952.7,272.0 L952.8,272.5 L952.9,273.0 L953.0,273.5 L953.1,274.0 L953.2,274.5 M956.5,293.0 L956.6,293.5 L956.7,294.0 L956.8,294.5 L956.8,295.0 L956.9,295.5 L957.0,296.0 L957.1,296.5 L957.2,297.0 L957.2,297.5 L957.3,298.0 L957.4,298.5 L957.5,299.0 L957.6,299.5 L957.6,300.0 L957.7,300.5 L957.8,301.0 L957.9,301.5 L958.0,302.0 L958.0,302.5 L958.1,303.0 L958.2,303.5 L958.3,304.0 L958.3,304.5 L958.4,305.0 L958.5,305.5 L958.6,306.0 L958.6,306.5 L958.7,307.0 L958.8,307.5 L958.8,308.0 L958.9,308.5 L959.0,309.0 L959.1,309.5 L959.1,310.0 L959.2,310.5 L959.3,311.0 L959.3,311.5 L959.4,312.0 L959.5,312.5 L959.5,313.0 L959.6,313.5 M962.1,334.0 L962.2,334.5 L962.2,334.9 L962.3,335.4 L962.4,335.9 L962.4,336.4 L962.5,336.9 L962.5,337.4 L962.6,337.9 L962.6,338.4 L962.7,338.9 L962.7,339.4 L962.8,339.9 L962.8,340.4 L962.9,340.9 L962.9,341.4 L963.0,341.9 L963.0,342.4 L963.1,342.9 L963.1,343.4 L963.2,343.9 L963.2,344.4 L963.3,344.9 L963.3,345.4 L963.4,345.9 L963.4,346.4 L963.5,346.9 L963.5,347.4 L963.6,347.9 L963.6,348.4 L963.7,348.9 L963.7,349.4 L963.8,349.9 L963.8,350.4 L963.9,350.9 L963.9,351.4 L963.9,351.9 L964.0,352.4 L964.0,352.9 L964.1,353.4 L964.1,353.9 L964.2,354.4 L964.2,354.9 L964.3,355.4 L964.3,355.9 M965.9,376.4 L965.9,376.9 L966.0,377.4 L966.0,377.9 L966.0,378.4 L966.1,378.9 L966.1,379.4 L966.1,379.9 L966.2,380.4 L966.2,380.9 L966.2,381.4 L966.2,381.9 L966.3,382.4 L966.3,382.9 L966.3,383.4 L966.4,383.9 L966.4,384.4 L966.4,384.9 L966.5,385.4 L966.5,385.9 L966.5,386.3 L966.6,386.8 L966.6,387.3 L966.6,387.8 L966.7,388.3 L966.7,388.8 L966.7,389.3 L966.7,389.8 L966.8,390.5 L966.8,391.2 L966.9,391.8 L966.9,392.5 L966.9,393.2 L967.0,393.8 L967.0,394.5 L967.0,395.2 L967.1,395.8 L967.1,396.5 L967.2,397.2 L967.2,397.8 L967.2,398.5 L967.3,399.2 L967.3,399.8 L967.3,400.5 L967.4,401.2 L967.4,401.8 L967.4,402.5 L967.5,403.2 L967.5,403.8 L967.5,404.5 L967.6,405.2 L967.6,405.8 L967.6,406.5 L967.7,407.1 M968.7,429.1 L968.7,429.8 L968.7,430.5 L968.7,431.1 L968.8,431.8 L968.8,432.3 L968.8,432.8 L968.8,433.3 L968.8,433.8 L968.9,434.3 L968.9,434.8 L968.9,435.3 L968.9,435.8 L968.9,436.3 L969.0,436.8 L969.0,437.3 L969.0,437.8 L969.0,438.3 L969.0,438.8 L969.1,439.3 L969.1,439.8 L969.1,440.3 L969.1,440.8 L969.1,441.3 L969.2,441.8 L969.2,442.3 L969.2,442.8 L969.2,443.3 L969.2,443.8 L969.2,444.3 L969.3,444.8 L969.3,445.3 L969.3,445.8 L969.3,446.3 L969.3,446.8 L969.4,447.3 L969.4,447.8 L969.4,448.3 M970.2,471.3 L970.3,471.8 L970.3,472.3 L970.3,472.8 L970.3,473.3 L970.3,473.8 L970.4,474.3 L970.4,474.8 L970.4,475.3 L970.4,475.8 L970.4,476.3 L970.5,476.8 L970.5,477.3 L970.5,477.8 L970.5,478.3 L970.5,478.8 L970.5,479.3 L970.6,479.8 L970.6,480.3 L970.6,480.8 L970.6,481.3 L970.6,481.8 L970.7,482.3 L970.7,482.8 L970.7,483.3 L970.7,483.8 L970.7,484.3 L970.8,484.8 L970.8,485.3 L970.8,485.8 L970.8,486.3 L970.8,486.8 L970.9,487.3 L970.9,487.8 L970.9,488.3 L970.9,488.8 L970.9,489.3 L971.0,489.8 L971.0,490.3 L971.0,490.8 L971.0,491.3 L971.0,491.8 L971.1,492.3 M972.1,513.9 L972.1,514.4 L972.1,514.9 L972.1,515.4 L972.2,515.9 L972.2,516.4 L972.2,516.9 L972.2,517.4 L972.3,517.9 L972.3,518.4 L972.3,518.9 L972.3,519.4 L972.4,519.9 L972.4,520.4 L972.4,520.9 L972.5,521.4 L972.5,521.9 L972.5,522.4 L972.5,522.9 L972.6,523.4 L972.6,523.9 L972.6,524.4 L972.7,524.9 L972.7,525.4 L972.7,525.9 L972.7,526.4 L972.8,526.9 L972.8,527.4 L972.8,527.9 L972.9,528.4 L972.9,528.9 L972.9,529.4 L972.9,529.9 L973.0,530.4 L973.0,530.9 L973.0,531.4 L973.1,531.9 L973.1,532.4 L973.1,532.9 L973.2,533.4 L973.2,533.9 L973.2,534.4 L973.3,534.9 L973.3,535.4 L973.3,535.9 L973.4,536.5 L973.4,537.0 L973.4,537.5 L973.4,538.0 L973.5,538.5 L973.5,539.0 L973.5,539.5 L973.6,540.0 L973.6,540.5 L973.7,541.0 L973.7,541.5 L973.7,542.0 L973.8,542.5 L973.8,543.0 L973.8,543.5 L973.9,544.0 L973.9,544.5 L973.9,545.0 L974.0,545.5 L974.0,546.0 M974.0,546.0 L974.0,545.5 L974.0,545.0 L974.1,544.5 L974.1,544.0 L974.1,543.5 L974.1,543.0 L974.1,542.5 L974.1,542.0 L974.2,541.4 L974.2,540.9 L974.2,540.4 L974.2,539.9 L974.2,539.4 L974.2,538.9 L974.3,538.4 L974.3,537.9 L974.3,537.4 L974.3,536.9 L974.3,536.4 L974.4,535.9 L974.4,535.4 L974.4,534.9 L974.4,534.4 L974.4,533.9 L974.4,533.4 L974.5,532.9 L974.5,532.4 L974.5,531.8 L974.5,531.3 L974.5,530.8 L974.5,530.3 L974.6,529.8 L974.6,529.3 L974.6,528.8 L974.6,528.3 L974.6,527.8 L974.6,527.3 L974.6,526.8 L974.7,526.3 L974.7,525.8 L974.7,525.3 L974.7,524.8 L974.7,524.3 L974.7,523.8 L974.8,523.3 L974.8,522.8 L974.8,522.3 L974.8,521.8 L974.8,521.3 L974.8,520.7 L974.8,520.2 M975.3,503.6 L975.3,503.1 L975.4,502.6 L975.4,502.1 L975.4,501.6 L975.4,501.1 L975.4,500.6 L975.4,500.1 L975.4,499.6 L975.5,499.1 L975.5,498.6 L975.5,498.1 L975.5,497.6 L975.5,497.1 L975.5,496.6 L975.5,496.1 L975.6,495.6 L975.6,495.1 L975.6,494.5 L975.6,494.0 L975.6,493.5 L975.6,493.0 L975.6,492.5 L975.7,492.0 L975.7,491.5 L975.7,491.0 L975.7,490.5 L975.7,490.0 L975.7,489.5 L975.7,489.0 L975.8,488.5 L975.8,488.0 L975.8,487.5 L975.8,487.0 L975.8,486.5 L975.8,486.0 L975.8,485.5 L975.8,485.0 L975.9,484.5 M976.5,461.4 L976.5,460.9 L976.5,460.4 L976.5,459.9 L976.5,459.4 L976.5,458.9 L976.6,458.4 L976.6,457.9 L976.6,457.4 L976.6,456.9 L976.6,456.4 L976.6,455.9 L976.6,455.4 L976.7,454.9 L976.7,454.4 L976.7,453.9 L976.7,453.4 L976.7,452.9 L976.7,452.3 L976.7,451.8 L976.7,451.3 L976.8,450.8 L976.8,450.3 L976.8,449.8 L976.8,449.3 L976.8,448.8 L976.8,448.3 L976.8,447.8 L976.9,447.3 L976.9,446.8 L976.9,446.3 L976.9,445.8 L976.9,445.3 L976.9,444.8 L976.9,444.3 L977.0,443.8 L977.0,443.3 L977.0,442.8 L977.0,442.3 L977.0,441.8 L977.0,441.3 L977.0,440.8 M977.7,420.3 L977.7,419.8 L977.7,419.3 L977.7,418.8 L977.7,418.3 L977.7,417.8 L977.8,417.3 L977.8,416.8 L977.8,416.3 L977.8,415.8 L977.8,415.3 L977.8,414.8 L977.9,414.3 L977.9,413.8 L977.9,413.3 L977.9,412.8 L977.9,412.3 L977.9,411.8 L978.0,411.3 L978.0,410.8 L978.0,410.3 L978.0,409.8 L978.0,409.3 L978.1,408.8 L978.1,408.3 L978.1,407.8 L978.1,407.3 L978.1,406.8 L978.1,406.3 L978.2,405.8 L978.2,405.3 L978.2,404.8 L978.2,404.3 L978.2,403.8 L978.2,403.3 L978.3,402.8 L978.3,402.3 L978.3,401.8 L978.3,401.3 L978.3,400.8 L978.4,400.3 L978.4,399.8 L978.4,399.3 M979.3,377.8 L979.3,377.3 L979.3,376.8 L979.3,376.3 L979.4,375.8 L979.4,375.3 L979.4,374.8 L979.4,374.3 L979.4,373.8 L979.5,373.3 L979.5,372.8 L979.5,372.3 L979.5,371.8 L979.6,371.3 L979.6,370.8 L979.6,370.3 L979.6,369.8 L979.7,369.3 L979.7,368.8 L979.7,368.3 L979.7,367.8 L979.8,367.3 L979.8,366.8 L979.8,366.3 L979.8,365.8 L979.9,365.3 L979.9,364.8 L979.9,364.3 L979.9,363.8 L979.9,363.3 L980.0,362.8 L980.0,362.3 L980.0,361.8 L980.0,361.3 L980.1,360.8 L980.1,360.3 L980.1,359.8 L980.2,359.3 L980.2,358.8 L980.2,358.3 L980.2,357.8 L980.3,357.3 M981.5,335.3 L981.6,334.8 L981.6,334.3 L981.6,333.8 L981.7,333.3 L981.7,332.8 L981.7,332.3 L981.8,331.8 L981.8,331.3 L981.8,330.8 L981.8,330.3 L981.9,329.8 L981.9,329.3 L981.9,328.8 L982.0,328.3 L982.0,327.8 L982.0,327.3 L982.1,326.8 L982.1,326.3 L982.2,325.8 L982.2,325.3 L982.2,324.8 L982.3,324.3 L982.3,323.8 L982.3,323.3 L982.4,322.8 L982.4,322.3 L982.4,321.8 L982.5,321.4 L982.5,320.9 L982.5,320.4 L982.6,319.9 L982.6,319.4 L982.6,318.9 L982.7,318.4 L982.7,317.9 L982.8,317.4 L982.8,316.9 L982.8,316.4 L982.9,315.9 L982.9,315.4 L982.9,314.9 M984.0,301.9 L984.0,301.4 L984.0,300.9 L984.1,300.4 L984.1,299.9 L984.2,299.4 L984.2,298.9 L984.3,298.4 L984.3,297.9 L984.3,297.4 L984.4,296.9 L984.4,296.4 L984.5,295.9 L984.5,295.4 L984.6,294.9 L984.6,294.4 L984.6,293.9 L984.7,293.4 L984.7,292.9 L984.8,292.4 L984.8,291.9 L984.9,291.4 L984.9,290.9 L985.0,290.4 L985.0,289.9 L985.1,289.4 L985.1,288.9 L985.1,288.4 L985.2,287.9 L985.2,287.4 L985.3,286.9 L985.3,286.4 L985.4,285.9 L985.4,285.4 L985.5,284.9 L985.5,284.4 L985.6,283.9 L985.6,283.4 L985.7,282.9 L985.7,282.4 L985.8,281.9 L985.8,281.4 L985.9,280.9 L985.9,280.4 L986.0,279.9 M988.0,261.0 L988.0,260.5 L988.1,260.0 L988.1,259.5 L988.2,259.0 L988.2,258.5 L988.3,258.0 L988.4,257.5 L988.4,257.0 L988.5,256.5 L988.5,256.0 L988.6,255.5 L988.7,255.0 L988.7,254.5 L988.8,254.0 L988.8,253.5 L988.9,253.0 L988.9,252.5 L989.0,252.0 L989.1,251.5 L989.1,251.0 L989.2,250.5 L989.3,250.0 L989.3,249.5 L989.4,249.0 L989.4,248.5 L989.5,248.0 L989.6,247.5 L989.6,247.0 L989.7,246.5 L989.7,246.0 L989.8,245.5 L989.9,245.0 L989.9,244.5 L990.0,244.0 L990.1,243.5 L990.1,243.0 L990.2,242.5 L990.3,242.0 L990.3,241.5 L990.4,241.0 L990.5,240.5 L990.5,240.0 L990.6,239.5 L990.6,239.0 L990.7,238.5 M993.3,220.0 L993.4,219.5 L993.5,219.0 L993.5,218.5 L993.6,218.0 L993.7,217.5 L993.8,217.0 L993.8,216.5 L993.9,216.0 L994.0,215.5 L994.1,215.0 L994.2,214.5 L994.2,214.0 L994.3,213.5 L994.4,213.0 L994.5,212.5 L994.5,212.0 L994.6,211.5 L994.7,211.0 L994.8,210.5 L994.9,210.0 L994.9,209.5 L995.0,209.0 L995.1,208.5 L995.2,208.0 L995.3,207.5 L995.3,207.0 L995.4,206.5 L995.5,206.0 L995.6,205.5 L995.7,205.0 L995.7,204.5 L995.8,204.0 L995.9,203.5 L996.0,203.0 L996.1,202.5 L996.2,202.0 L996.2,201.5 L996.3,201.0 L996.4,200.5 L996.5,200.0 L996.6,199.5 L996.7,199.0 L996.8,198.5 L996.8,198.0 M1000.0,180.5 L1000.1,180.0 L1000.2,179.5 L1000.3,179.0 L1000.4,178.5 L1000.5,178.0 L1000.6,177.5 L1000.7,177.0 L1000.8,176.5 L1000.9,176.0 L1001.0,175.5 L1001.1,175.0 L1001.2,174.5 L1001.3,174.0 L1001.4,173.5 L1001.5,172.9 L1001.6,172.4 L1001.7,171.9 L1001.8,171.4 L1001.9,170.9 L1002.0,170.4 L1002.1,169.9 L1002.2,169.4 L1002.3,168.9 L1002.4,168.4 L1002.5,167.9 L1002.6,167.4 L1002.7,167.0 L1002.8,166.5 L1002.9,166.0 L1003.0,165.5 L1003.1,165.0 L1003.2,164.5 L1003.3,164.0 L1003.4,163.5 L1003.6,163.0 L1003.7,162.5 L1003.8,162.0 L1003.9,161.5 L1004.0,161.0 L1004.1,160.5 L1004.2,160.0 L1004.3,159.5 L1004.5,159.0 L1004.6,158.5 L1004.7,158.0 L1004.8,157.5 L1004.9,157.0 L1005.0,156.5 L1005.1,156.0 L1005.3,155.5 L1005.4,155.0 L1005.5,154.5 L1005.6,154.0 L1005.7,153.5 L1005.9,153.1 L1006.0,152.6 M1010.8,135.6 L1010.9,135.1 L1011.1,134.6 L1011.2,134.1 L1011.4,133.5 L1011.6,132.9 L1011.8,132.2 L1012.1,131.6 L1012.3,131.0 L1012.5,130.3 L1012.7,129.7 L1012.9,129.1 L1013.1,128.5 L1013.4,127.8 L1013.6,127.2 L1013.8,126.6 L1014.0,126.0 L1014.3,125.4 L1014.5,124.7 L1014.7,124.1 L1015.0,123.5 L1015.2,122.9 L1015.5,122.3 L1015.7,121.7 L1016.0,121.1 L1016.2,120.4 L1016.5,119.8 L1016.7,119.2 L1017.0,118.6 M1019.6,112.6 L1019.9,112.1 L1020.2,111.5 L1020.5,110.9 L1020.8,110.3 L1021.1,109.7 L1021.3,109.1 L1021.6,108.5 L1021.9,108.0 L1022.2,107.4 L1022.5,106.8 L1022.8,106.2 L1023.2,105.7 L1023.5,105.1 L1023.8,104.5 L1024.1,104.0 L1024.4,103.4 L1024.7,102.8 L1025.1,102.3 L1025.4,101.7 L1025.7,101.2 L1026.0,100.6 L1026.4,100.0 L1026.7,99.5 L1027.0,98.9 L1027.4,98.4 L1027.7,97.8 L1028.1,97.3 M1036.5,85.8 L1037.0,85.3 L1037.4,84.8 L1037.8,84.3 L1038.2,83.8 L1038.7,83.4 L1039.1,82.9 L1039.6,82.4 L1040.0,81.9 L1040.5,81.5 L1040.9,81.0 L1041.4,80.5 L1041.8,80.0 L1042.3,79.6 L1042.8,79.1 L1043.3,78.7 L1043.7,78.2 L1044.2,77.8 L1044.7,77.3 L1045.2,76.9 L1045.7,76.4 L1046.2,76.0 L1046.6,75.7 L1047.0,75.3 L1047.3,75.0 L1047.7,74.7 L1048.1,74.4 L1048.5,74.1 L1048.9,73.7"/>
<path d="M1052.5,70.2 L1054.4,69.5 L1056.3,68.8 L1058.2,68.2 L1060.2,67.6 L1062.1,67.0 L1064.0,66.5 L1066.0,66.0 L1067.9,65.5 L1069.9,65.0 L1071.8,64.6 L1073.8,64.2 L1075.7,63.9 L1077.7,63.5 L1079.6,63.2 L1081.6,62.9 L1083.6,62.6 L1085.5,62.4 L1087.5,62.2 L1089.5,62.0 L1091.5,61.8 L1093.5,61.6 L1095.4,61.5 L1097.4,61.4 L1099.4,61.2 L1101.4,61.2 L1103.4,61.1 L1105.4,61.0 L1107.4,61.0 L1109.4,60.9 L1111.4,60.9 L1113.4,60.9 L1115.4,60.9 L1117.4,61.0 L1119.4,61.0 L1121.4,61.0 L1123.4,61.1 L1125.4,61.1 L1127.4,61.2 L1129.5,61.2 L1131.5,61.3 L1133.5,61.4 L1135.5,61.5 L1137.5,61.6 L1139.5,61.6 L1141.5,61.7 L1143.5,61.8 L1145.6,61.9 L1147.6,62.0 L1149.6,62.1 L1151.6,62.2 L1153.6,62.3 L1155.6,62.4 L1157.6,62.5 L1159.7,62.6 L1161.7,62.6 L1163.7,62.7 L1165.7,62.8 L1167.7,62.9 L1169.7,63.0 L1171.7,63.1 L1173.8,63.2 L1175.8,63.3 L1177.8,63.4 L1179.8,63.4 L1181.8,63.5 L1183.8,63.6 L1185.8,63.7 L1187.9,63.8 L1189.9,63.9 L1191.9,64.0 L1193.9,64.0 L1195.9,64.1 L1197.9,64.2 L1199.9,64.3 L1202.0,64.4 L1204.0,64.5 L1206.0,64.5 L1208.0,64.6 L1210.0,64.7 L1212.0,64.8 L1214.0,64.9 L1216.1,64.9 L1218.1,65.0 L1220.1,65.1 L1222.1,65.2 L1224.1,65.3 L1226.1,65.3 L1228.1,65.4 L1230.1,65.5 L1232.2,65.6 L1234.2,65.6 L1236.2,65.7 L1238.2,65.8 L1240.2,65.9 L1242.2,66.0 L1244.2,66.0 L1246.2,66.1 L1248.3,66.2 L1250.3,66.2 L1252.3,66.3 L1254.3,66.4 L1256.3,66.5 L1258.3,66.5 L1260.3,66.6 L1262.3,66.7 L1264.4,66.8 L1266.4,66.8 L1268.4,66.9 L1270.4,67.0 L1272.4,67.0 L1274.4,67.1 L1276.4,67.2 L1278.4,67.2 L1280.5,67.3 L1282.5,67.4 L1284.5,67.4 L1286.5,67.5 L1288.5,67.6 L1290.5,67.6 L1292.5,67.7 L1294.5,67.8 L1296.6,67.8 L1298.6,67.9 L1300.6,68.0 L1302.6,68.0 L1304.6,68.1 L1306.6,68.1 L1308.6,68.2 L1310.6,68.3 L1312.6,68.3 L1314.7,68.4 L1316.7,68.5 L1318.7,68.5 L1320.7,68.6 L1322.7,68.6 L1324.7,68.7 L1326.7,68.7 L1328.7,68.8 L1330.7,68.9 L1332.7,68.9 L1334.8,69.0 L1336.8,69.0 L1338.8,69.1 L1340.8,69.1 L1342.8,69.2 L1344.8,69.2 L1346.8,69.3 L1348.8,69.3 L1350.8,69.4 L1352.8,69.4 L1354.9,69.5 L1356.9,69.5 L1358.9,69.6 L1360.9,69.6 L1362.9,69.7 L1364.9,69.7 L1366.9,69.8 L1368.9,69.8 L1370.9,69.9 L1372.9,69.9 L1375.0,70.0 L1377.0,70.0 L1379.0,70.1 L1381.0,70.1 L1383.0,70.2 L1385.0,70.2"/>
</g>
<rect x="234.5" y="52.5" width="1148.25" height="852.6" stroke="#000" stroke-width="4.5" fill="none"/>
<path d="M234.5,123.6h11.2 M234.5,194.6h19.3 M234.5,265.6h11.2 M234.5,336.7h19.3 M234.5,407.8h11.2 M234.5,478.8h19.3 M234.5,549.9h11.2 M234.5,620.9h19.3 M234.5,692.0h11.2 M234.5,763.0h19.3 M234.5,834.1h11.2 M311.1,905.1v-12.0 M387.6,905.1v-20.5 M464.1,905.1v-12.0 M540.7,905.1v-20.5 M617.2,905.1v-12.0 M693.8,905.1v-20.5 M770.4,905.1v-12.0 M846.9,905.1v-20.5 M923.4,905.1v-12.0 M1000.0,905.1v-20.5 M1076.5,905.1v-12.0 M1153.1,905.1v-20.5 M1229.7,905.1v-12.0 M1306.2,905.1v-20.5" stroke="#000" stroke-width="3.6" fill="none"/>
<g font-family="Liberation Serif, serif" font-weight="bold" font-size="50" fill="#000">
<text x="0" y="0" text-anchor="end" transform="translate(213.8,66.8) scale(1.035,1)">0</text>
<text x="0" y="0" text-anchor="end" transform="translate(213.8,208.9) scale(1.035,1)">-10</text>
<text x="0" y="0" text-anchor="end" transform="translate(213.8,351.0) scale(1.035,1)">-20</text>
<text x="0" y="0" text-anchor="end" transform="translate(213.8,493.1) scale(1.035,1)">-30</text>
<text x="0" y="0" text-anchor="end" transform="translate(213.8,635.2) scale(1.035,1)">-40</text>
<text x="0" y="0" text-anchor="end" transform="translate(213.8,777.3) scale(1.035,1)">-50</text>
<text x="0" y="0" text-anchor="end" transform="translate(213.8,919.4) scale(1.035,1)">-60</text>
<text x="233.5" y="964" text-anchor="middle">0</text>
<text x="386.6" y="964" text-anchor="middle">2</text>
<text x="539.7" y="964" text-anchor="middle">4</text>
<text x="692.8" y="964" text-anchor="middle">6</text>
<text x="845.9" y="964" text-anchor="middle">8</text>
<text x="999.0" y="964" text-anchor="middle">10</text>
<text x="1152.1" y="964" text-anchor="middle">12</text>
<text x="1305.2" y="964" text-anchor="middle">14</text>
</g>
<text x="808" y="1055" text-anchor="middle" font-family="Liberation Serif, serif" font-weight="bold" font-size="53">Frequency (GHz)</text>
<text transform="translate(74.5,492) rotate(-90) scale(1.024,1)" text-anchor="middle" font-family="Liberation Serif, serif" font-weight="bold" font-size="53">S-Parameters (dB)</text>
<g transform="translate(567.2,332.4) scale(0.84,1)"><text x="0" y="0" font-family="Liberation Sans, sans-serif" font-weight="bold" font-size="52.5" style="font-kerning:none" letter-spacing="1.5">TZ</text></g><text x="621.2" y="332.4" font-family="Liberation Sans, sans-serif" font-size="33">4</text>
<g transform="translate(1136.2,332.4) scale(0.84,1)"><text x="0" y="0" font-family="Liberation Sans, sans-serif" font-weight="bold" font-size="52.5" style="font-kerning:none" letter-spacing="1.5">TZ</text></g><text x="1190.5" y="332.4" font-family="Liberation Sans, sans-serif" font-size="33">6</text>
<g transform="translate(727.5,570.4) scale(0.84,1)"><text x="0" y="0" font-family="Liberation Sans, sans-serif" font-weight="bold" font-size="52.5" style="font-kerning:none" letter-spacing="1.5">TZ</text></g><text x="781.8" y="570.4" font-family="Liberation Sans, sans-serif" font-size="33">5</text>
<path d="M619.6,332.0V439.5" stroke="#000" stroke-width="4" fill="none"/><path d="M611.6,436.5L627.6,436.5L619.6,449.5Z" fill="#000"/>
<path d="M1164.8,336.0V442.0" stroke="#000" stroke-width="4" fill="none"/><path d="M1156.8,439.0L1172.8,439.0L1164.8,452.0Z" fill="#000"/>
<path d="M732,552 L698,514" stroke="#000" stroke-width="4" fill="none"/>
<path d="M690.5,505 L706,511.5 L694,521 Z" fill="#000"/>
<path d="M815.6,706.3H973.9" stroke="#000" stroke-width="4.4"/>
<path d="M815.6,806.7H837.7M856.1,806.7H880M897.5,806.7H921.4M940.8,806.7H962.8" stroke="#000" stroke-width="4.4"/>
<g font-family="Liberation Serif, serif" fill="#000">
<text x="0" y="0" transform="translate(979.5,731.3) scale(1.12,1)" font-weight="bold" font-style="italic" font-size="57">S</text>
<text x="0" y="0" transform="translate(1011.2,752.3) scale(0.87,1)" font-size="35.5" font-weight="bold">21</text>
<text x="0" y="0" transform="translate(979.5,828.3) scale(1.12,1)" font-weight="bold" font-style="italic" font-size="57">S</text>
<text x="0" y="0" transform="translate(1012.4,850.3) scale(0.87,1)" font-size="35.5" font-weight="bold">11</text>
</g>
</svg>
</body></html>
